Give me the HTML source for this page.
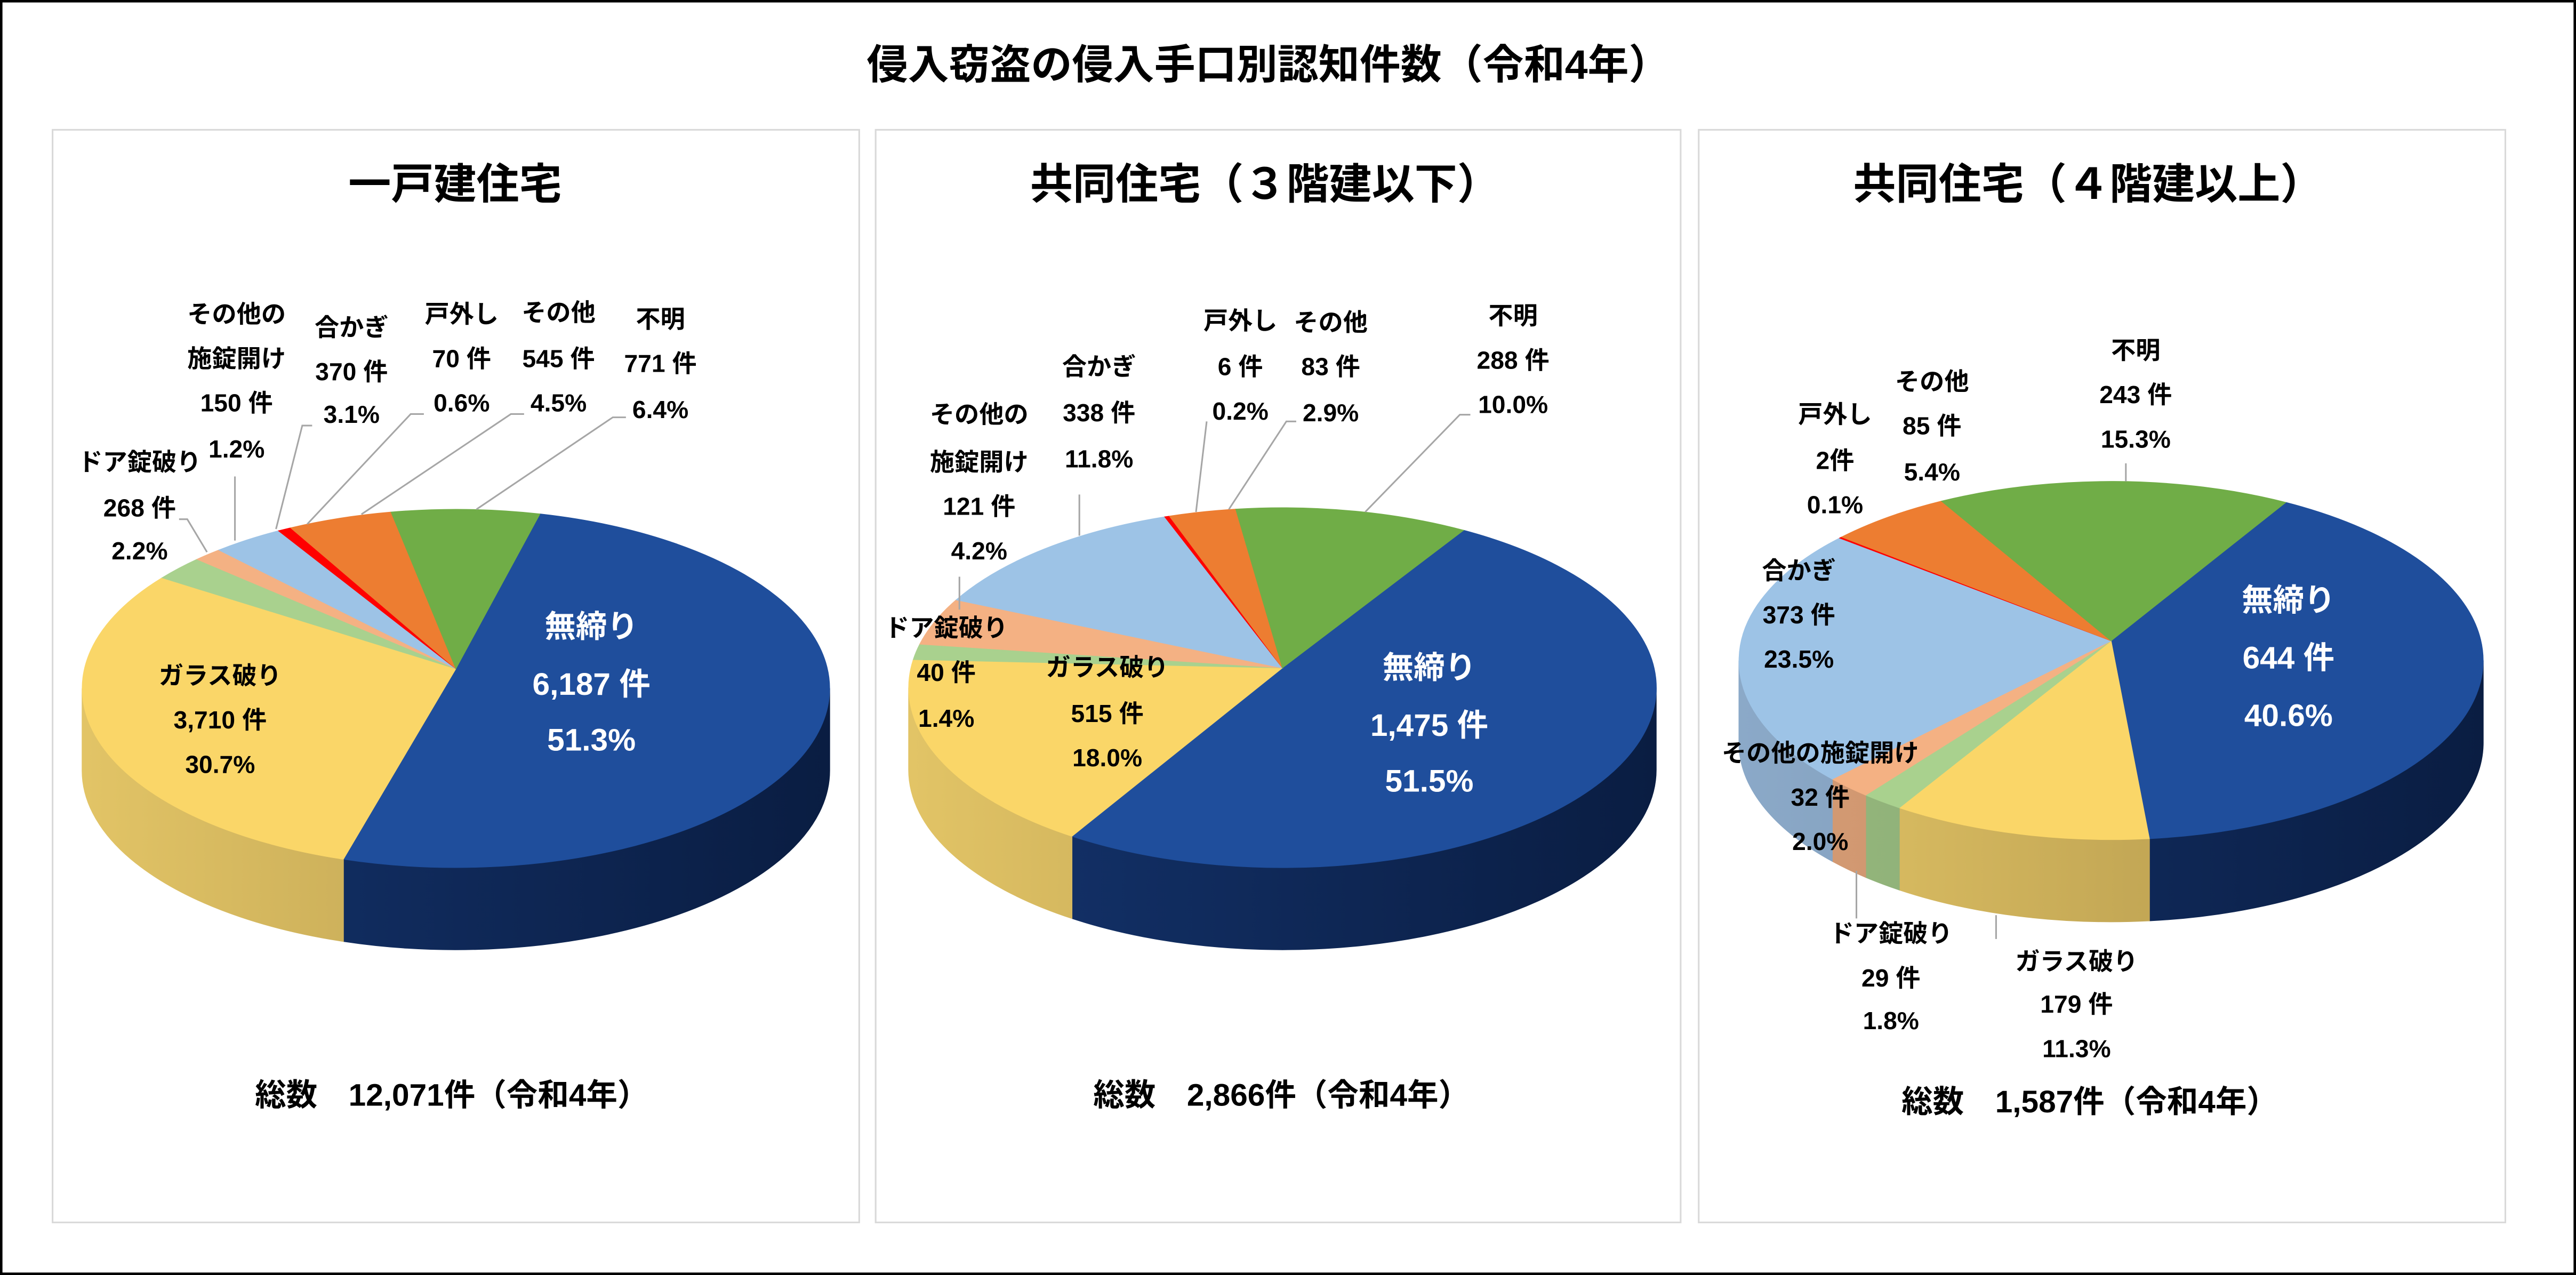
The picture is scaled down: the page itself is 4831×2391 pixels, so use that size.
<!DOCTYPE html>
<html><head><meta charset="utf-8">
<style>
html,body{margin:0;padding:0;background:#fff;}
svg{display:block;}
text{font-family:"Liberation Sans","Noto Sans CJK JP",sans-serif;font-weight:bold;}
</style></head>
<body>
<svg id="s" xmlns="http://www.w3.org/2000/svg" width="4831" height="2391" viewBox="0 0 1568 776" preserveAspectRatio="none">
<rect x="0.75" y="0.75" width="1566.5" height="774.5" fill="#fff" stroke="#000" stroke-width="1.5"/>
<text x="772" y="48" font-size="25" text-anchor="middle" fill="#000">侵入窃盗の侵入手口別認知件数（令和4年）</text>
<rect x="32" y="79" width="491" height="665" fill="none" stroke="#d9d9d9" stroke-width="1"/>
<rect x="533" y="79" width="490" height="665" fill="none" stroke="#d9d9d9" stroke-width="1"/>
<rect x="1034" y="79" width="491" height="665" fill="none" stroke="#d9d9d9" stroke-width="1"/>
<text x="277" y="121" font-size="26" text-anchor="middle">一戸建住宅</text>
<text x="770" y="121" font-size="26" text-anchor="middle">共同住宅（３階建以下）</text>
<text x="1271" y="121" font-size="26" text-anchor="middle">共同住宅（４階建以上）</text>
<g id="pies"></g>
<g id="lines" stroke="#a6a6a6" stroke-width="1" fill="none">
<polyline points="143,290 143,329"/>
<polyline points="190,259 184,259 168,322"/>
<polyline points="258,252 250,252 187,319"/>
<polyline points="319,252 311,252 220,313"/>
<polyline points="381,254 373,254 290,310"/>
<polyline points="109,316 114,316 126,336"/>
<polyline points="657,301 657,326"/>
<polyline points="584,351 584,371"/>
<polyline points="734.5,256.5 728,311.6"/>
<polyline points="789,256.5 783,256.5 748,310"/>
<polyline points="895,252.4 888.6,252.4 831,311.6"/>
<polyline points="1294,282 1294,293"/>
<polyline points="1130,530 1130,559"/>
<polyline points="1215,557 1215,571.5"/>
</g>
<g id="labels" font-size="15" text-anchor="middle" fill="#000"></g>
<text x="275" y="673" font-size="19" text-anchor="middle">総数　12,071件（令和4年）</text>
<text x="780" y="673" font-size="19" text-anchor="middle">総数　2,866件（令和4年）</text>
<text x="1272" y="677" font-size="19" text-anchor="middle">総数　1,587件（令和4年）</text>
</svg>
<script>
const NS="http://www.w3.org/2000/svg";
const cols=[
 {t:"#1F4E9C",s:["#14346e","#0a1d42"]},
 {t:"#FAD668",s:["#e2c466","#a98f47"]},
 {t:"#A9D18E",s:["#96b97e","#7e9b69"]},
 {t:"#F4B183",s:["#d69c74","#b98663"]},
 {t:"#9DC3E6",s:["#8ba9c8","#6f88a2"]},
 {t:"#FF0000",s:["#cc0000","#aa0000"]},
 {t:"#ED7D31",s:["#c96a2a","#a85822"]},
 {t:"#70AD47",s:["#5f933c","#4e7a32"]}];
const pies=[
 {cx:277.5,cy:419,rx:227.5,ry:109,d:50,st:13,v:[6187,3710,268,150,370,70,545,771]},
 {cx:780.6,cy:418.5,rx:227.5,ry:109.5,d:50,st:29,v:[1475,515,40,121,338,6,83,288]},
 {cx:1285,cy:402,rx:226.5,ry:109,d:50,st:28,v:[644,179,29,32,373,2,85,243]}];
const g=document.getElementById("pies");
const svg=document.getElementById("s");
const defs=document.createElementNS(NS,"defs");svg.insertBefore(defs,svg.firstChild);
function el(n,a,p){const e=document.createElementNS(NS,n);for(const k in a)e.setAttribute(k,a[k]);(p||g).appendChild(e);return e;}
pies.forEach((P,pi)=>{
 const pt=(t,dy)=>{const r=t*Math.PI/180;return [(P.cx+P.rx*Math.sin(r)).toFixed(2),(P.cy-P.ry*Math.cos(r)+(dy||0)).toFixed(2)];};
 const tot=P.v.reduce((a,b)=>a+b,0);
 let t=P.st;const seg=[];
 P.v.forEach((v,i)=>{const a=v/tot*360;seg.push([t,t+a,i]);t+=a;});
 cols.forEach((c,i)=>{const lg=el("linearGradient",{id:"g"+pi+"_"+i,gradientUnits:"userSpaceOnUse",x1:P.cx-P.rx,y1:0,x2:P.cx+P.rx,y2:0},defs);
  el("stop",{offset:"0",["stop-color"]:c.s[0]},lg);el("stop",{offset:"1",["stop-color"]:c.s[1]},lg);});
 // sides
 seg.forEach(([a,b,i])=>{
  [[90,270],[450,630]].forEach(([f0,f1])=>{
   const s0=Math.max(a,f0),s1=Math.min(b,f1);
   if(s1-s0>0.01){
    const p0=pt(s0),p1=pt(s1),q1=pt(s1,P.d),q0=pt(s0,P.d);
    el("path",{d:`M${p0} A${P.rx} ${P.ry} 0 0 1 ${p1} L${q1} A${P.rx} ${P.ry} 0 0 0 ${q0} Z`,fill:`url(#g${pi}_${i})`,stroke:`url(#g${pi}_${i})`,"stroke-width":"0.5"});
   }});
 });
 const ax=P.cx,ay=P.cy-12;
 seg.forEach(([a,b,i])=>{
  const p0=pt(a),p1=pt(b);const lg=(b-a)>180?1:0;
  el("path",{d:`M${ax},${ay} L${p0} A${P.rx} ${P.ry} 0 ${lg} 1 ${p1} Z`,fill:cols[i].t,stroke:cols[i].t,"stroke-width":"0.4"});
 });
});
const L=document.getElementById("labels");
function lab(x,y,arr,sz,fill){arr.forEach((s,k)=>{if(s===null)return;const e=el("text",{x:x,y:y[k]+ (sz?sz*0.36:5.4)},L);if(sz)e.setAttribute("font-size",sz);if(fill)e.setAttribute("fill",fill);e.textContent=s;});}
// pie1
lab(144,[191,218,245,273],["その他の","施錠開け","150 件","1.2%"]);
lab(214,[199,226,252],["合かぎ","370 件","3.1%"]);
lab(281,[191,218,245],["戸外し","70 件","0.6%"]);
lab(340,[190,218,245],["その他","545 件","4.5%"]);
lab(402,[194,221,249],["不明","771 件","6.4%"]);
lab(85,[281,309,335],["ドア錠破り","268 件","2.2%"]);
lab(360,[381,416,450],["無締り","6,187 件","51.3%"],19,"#fff");
lab(134,[411,438,465],["ガラス破り","3,710 件","30.7%"],15);
// pie2
lab(755,[195,223,250],["戸外し","6 件","0.2%"]);
lab(810,[196,223,251],["その他","83 件","2.9%"]);
lab(921,[192,219,246],["不明","288 件","10.0%"]);
lab(669,[223,251,279],["合かぎ","338 件","11.8%"]);
lab(596,[252,281,308,335],["その他の","施錠開け","121 件","4.2%"]);
lab(576,[382,409,437],["ドア錠破り","40 件","1.4%"]);
lab(674,[406,434,461],["ガラス破り","515 件","18.0%"]);
lab(870,[406,441,475],["無締り","1,475 件","51.5%"],19,"#fff");
// pie3
lab(1300,[213,240,267],["不明","243 件","15.3%"]);
lab(1176,[232,259,287],["その他","85 件","5.4%"]);
lab(1117,[252,280,307],["戸外し","2件","0.1%"]);
lab(1095,[347,374,401],["合かぎ","373 件","23.5%"]);
lab(1108,[458,485,512],["その他の施錠開け","32 件","2.0%"]);
lab(1393,[365,400,435],["無締り","644 件","40.6%"],19,"#fff");
lab(1151,[568,595,621],["ドア錠破り","29 件","1.8%"]);
lab(1264,[585,611,638],["ガラス破り","179 件","11.3%"]);
</script>
</body></html>
